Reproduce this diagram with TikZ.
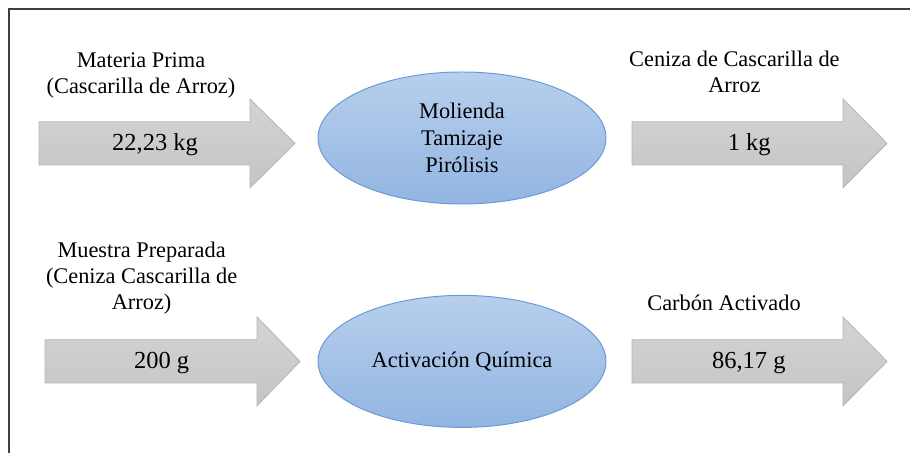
\documentclass[tikz,border=0pt]{standalone}
\usepackage{fontspec}
\setmainfont{Liberation Serif}
\usetikzlibrary{shapes.geometric}
\definecolor{azulclaro}{RGB}{184,207,236}
\definecolor{azuloscuro}{RGB}{146,181,226}
\definecolor{azulborde}{RGB}{104,155,214}
\tikzset{
	flecha/.style={top color=gray!34, bottom color=gray!46, draw=gray!58, line width=0.6pt},
	proceso/.style={ellipse, minimum width=7.2cm, minimum height=3.3cm, inner sep=0pt,
		top color=azulclaro, bottom color=azuloscuro, draw=azulborde, line width=0.7pt,
		align=center, font=\fontsize{15.9}{19}\selectfont},
	etiqueta/.style={align=center, font=\fontsize{15.9}{18.5}\selectfont},
	cantidad/.style={font=\fontsize{17.4}{20}\selectfont}
}
\begin{document}
\begin{tikzpicture}
			\useasboundingbox (0,0) rectangle (22.75,11.325);
			\draw[line width=0.8pt, black!75] (22.75,11.1)--(0.225,11.1)--(0.225,0);
			% fila superior
			\draw[flecha] (0.975,7.2)--(6.25,7.2)--(6.25,6.63)--(7.375,7.74)--(6.25,8.85)--(6.25,8.28)--(0.975,8.28)--cycle;
			\draw[flecha] (15.8,7.2)--(21.075,7.2)--(21.075,6.63)--(22.175,7.74)--(21.075,8.85)--(21.075,8.28)--(15.8,8.28)--cycle;
			\node[proceso] (molienda) at (11.55,7.875) {Molienda\\Tamizaje\\Pirólisis};
			\node[etiqueta] (materia) at (3.525,9.45) {Materia Prima\\(Cascarilla de Arroz)};
			\node[cantidad] (masa1) at (3.875,7.7) {22,23 kg};
			\node[etiqueta] (ceniza) at (18.36,9.54) {Ceniza de Cascarilla de\\Arroz};
			\node[cantidad] (masa2) at (18.73,7.7) {1 kg};
			% fila inferior
			\draw[flecha] (1.125,1.75)--(6.425,1.75)--(6.425,1.18)--(7.5,2.29)--(6.425,3.4)--(6.425,2.83)--(1.125,2.83)--cycle;
			\draw[flecha] (15.8,1.75)--(21.075,1.75)--(21.075,1.18)--(22.175,2.29)--(21.075,3.4)--(21.075,2.83)--(15.8,2.83)--cycle;
			\node[proceso] (activacion) at (11.55,2.29) {Activación Química};
			\node[etiqueta] (muestra) at (3.54,4.375) {Muestra Preparada\\(Ceniza Cascarilla de\\Arroz)};
			\node[cantidad] (masa3) at (4.04,2.25) {200 g};
			\node[etiqueta] (carbon) at (18.1,3.75) {Carbón Activado};
			\node[cantidad] (masa4) at (18.72,2.25) {86,17 g};
		\end{tikzpicture}
\end{document}
